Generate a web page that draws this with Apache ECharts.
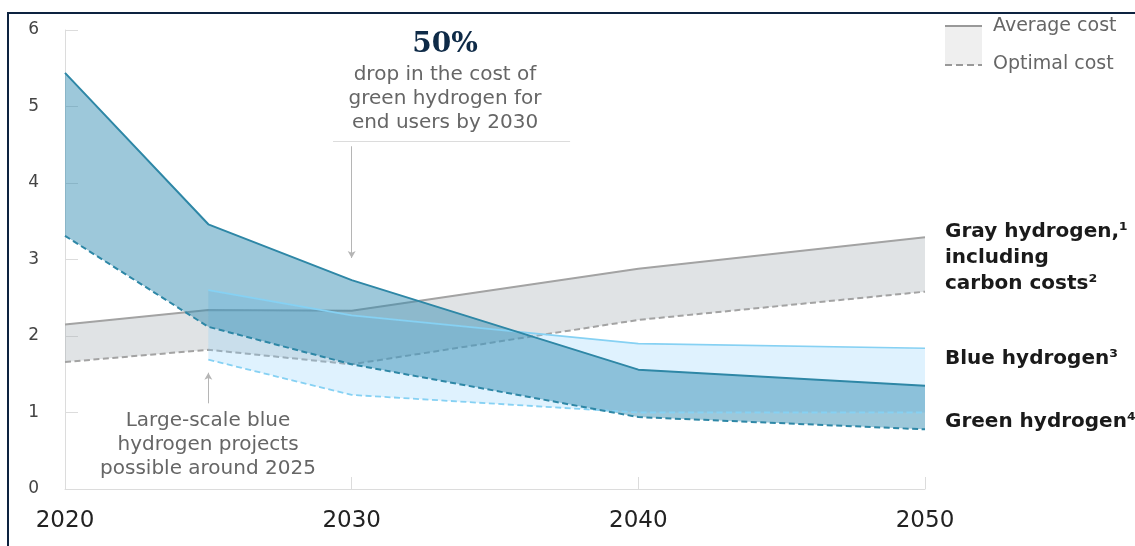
<!DOCTYPE html>
<html>
<head>
<meta charset="utf-8">
<script src="https://cdn.jsdelivr.net/npm/echarts@6/dist/echarts.min.js"></script>
<style>
  html, body { margin: 0; padding: 0; background: #fff; }
  #chart { width: 1135px; height: 546px; }
</style>
</head>
<body>
<div id="chart"></div>
<script>
// Hydrogen production cost, $ per kg
const years = [2020, 2025, 2030, 2040, 2050];
const grayAvg = [2.15, 2.34, 2.33, 2.88, 3.29];
const grayOpt = [1.66, 1.82, 1.63, 2.21, 2.58];
const greenAvg = [5.44, 3.46, 2.73, 1.56, 1.35];
const greenOpt = [3.31, 2.12, 1.63, 0.94, 0.78];
const blueYears = [2025, 2030, 2040, 2050];
const blueAvg = [2.60, 2.27, 1.90, 1.84];
const blueOpt = [1.69, 1.23, 1.00, 1.00];
const xTicks = [2020, 2030, 2040, 2050];

const SANS = '"DejaVu Sans", "Liberation Sans", sans-serif';
const GRAY_LINE = '#a3a3a3';
const GREEN_LINE = '#2e87a6';
const BLUE_LINE = '#86d1f3';

function pairs(xs, ys) { return xs.map((x, i) => [x, ys[i]]); }

// Filled band between the average and optimal curves
function band(xs, top, bottom, fill, z) {
  return {
    type: 'custom', z: z, silent: true,
    data: [[xs[0], bottom[0]]],
    renderItem: function (params, api) {
      const up = xs.map((x, i) => api.coord([x, top[i]]));
      const down = xs.map((x, i) => api.coord([x, bottom[i]])).reverse();
      return { type: 'polygon', shape: { points: up.concat(down) }, style: { fill: fill } };
    }
  };
}

function curve(xs, ys, color, width, dashed, z) {
  return {
    type: 'line', z: z, silent: true, symbol: 'none',
    data: pairs(xs, ys),
    lineStyle: { color: color, width: width, type: dashed ? [6, 3.5] : 'solid' }
  };
}

const chart = echarts.init(document.getElementById('chart'));

const annoText = (x, y, text, extra) => ({
  type: 'text', x: x, y: y, silent: true,
  style: Object.assign({ text: text, fill: '#666', font: '20px ' + SANS, align: 'center', verticalAlign: 'middle' }, extra || {})
});
const seriesLabel = (y, text) => ({
  type: 'text', x: 945, y: y, silent: true,
  style: { text: text, fill: '#1a1a1a', font: 'bold 20px ' + SANS, align: 'left', verticalAlign: 'middle' }
});

const arrowSeries = curve(years, grayAvg, GRAY_LINE, 2, false, 2);
arrowSeries.markLine = {
  silent: true, symbol: ['none', 'arrow'], symbolSize: [6, 7],
  label: { show: false },
  lineStyle: { color: '#b5b5b5', width: 1, type: 'solid' },
  data: [
    [{ coord: [2030, 4.48] }, { coord: [2030, 3.02] }],
    [{ coord: [2025, 1.12] }, { coord: [2025, 1.52] }],
    [{ coord: [2029.35, 4.54], symbol: 'none' }, { coord: [2037.62, 4.54], symbol: 'none', lineStyle: { color: '#dcdcdc' } }]
  ]
};

chart.setOption({
  animation: false,
  grid: { left: 65, right: 210, top: 30, bottom: 57 },
  xAxis: {
    type: 'value', min: 2020, max: 2050, interval: 10,
    axisLine: { lineStyle: { color: '#dcdcdc', width: 1 } },
    axisTick: { show: true, inside: true, length: 12, lineStyle: { color: '#dcdcdc' } },
    splitLine: { show: false },
    axisLabel: {
      margin: 21, fontSize: 23, color: '#222', fontFamily: SANS,
      formatter: v => xTicks.includes(v) ? String(v) : ''
    }
  },
  yAxis: {
    type: 'value', min: 0, max: 6, interval: 1,
    axisLine: { show: true, lineStyle: { color: '#dcdcdc', width: 1 } },
    axisTick: { show: true, inside: true, length: 13, lineStyle: { color: '#dcdcdc' } },
    splitLine: { show: false },
    axisLabel: { margin: 26, fontSize: 17, color: '#444', fontFamily: SANS }
  },
  series: [
    band(years, grayAvg, grayOpt, 'rgba(160,168,175,0.32)', 1),
    arrowSeries,
    curve(years, grayOpt, GRAY_LINE, 2, true, 2),
    band(blueYears, blueAvg, blueOpt, 'rgba(135,206,250,0.27)', 3),
    band(years, greenAvg, greenOpt, 'rgba(46,139,176,0.47)', 4),
    curve(blueYears, blueAvg, BLUE_LINE, 1.6, false, 5),
    curve(blueYears, blueOpt, BLUE_LINE, 1.8, true, 5),
    curve(years, greenAvg, GREEN_LINE, 2, false, 6),
    curve(years, greenOpt, GREEN_LINE, 2, true, 6)
  ],
  graphic: [
    // frame
    { type: 'rect', silent: true, shape: { x: 8, y: 13, width: 1400, height: 800 },
      style: { fill: 'none', stroke: '#0d2340', lineWidth: 2 } },
    // legend
    { type: 'rect', silent: true, shape: { x: 945, y: 26, width: 37, height: 39 }, style: { fill: '#efefef' } },
    { type: 'line', silent: true, shape: { x1: 945, y1: 26, x2: 982, y2: 26 }, style: { stroke: '#999', lineWidth: 2 } },
    { type: 'line', silent: true, shape: { x1: 945, y1: 65, x2: 982, y2: 65 }, style: { stroke: '#999', lineWidth: 2, lineDash: [7, 4] } },
    annoText(993, 26, 'Average cost', { align: 'left', font: '19px ' + SANS }),
    annoText(993, 64, 'Optimal cost', { align: 'left', font: '19px ' + SANS }),
    // 2030 callout
    annoText(445, 45, '50%', { fill: '#0e2a47', font: 'bold 28px "DejaVu Serif", "Liberation Serif", serif' }),
    annoText(445, 75, 'drop in the cost of'),
    annoText(445, 99, 'green hydrogen for'),
    annoText(445, 123, 'end users by 2030'),
    // 2025 callout
    annoText(208, 421, 'Large-scale blue'),
    annoText(208, 445, 'hydrogen projects'),
    annoText(208, 469, 'possible around 2025'),
    // series labels
    seriesLabel(232, 'Gray hydrogen,¹'),
    seriesLabel(258, 'including'),
    seriesLabel(284, 'carbon costs²'),
    seriesLabel(359, 'Blue hydrogen³'),
    seriesLabel(422, 'Green hydrogen⁴')
  ]
});
</script>
</body>
</html>
